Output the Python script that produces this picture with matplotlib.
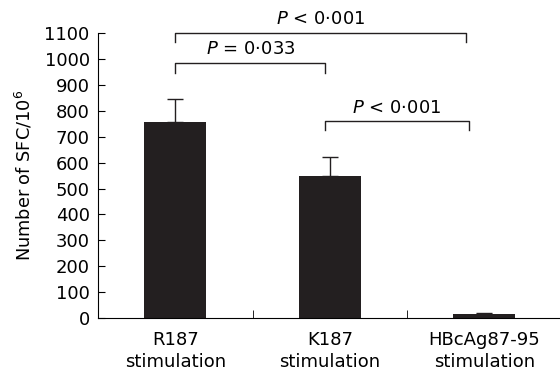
import matplotlib
matplotlib.use("Agg")
import matplotlib.pyplot as plt

# the reference is stretched sideways, DejaVu's wide glyphs match it best
plt.rcParams['font.family'] = ['DejaVu Sans']
plt.rcParams['mathtext.fontset'] = 'custom'
plt.rcParams['mathtext.rm'] = 'DejaVu Sans'
plt.rcParams['mathtext.it'] = 'DejaVu Sans:italic'

categories = ["R187\nstimulation", "K187\nstimulation", "HBcAg87-95\nstimulation"]
means = [757, 548, 15]
errors = [88, 74, 6]
yticks = list(range(0, 1101, 100))

# brackets: (x left, x right, y bar, y leg end, label)
brackets = [
    (0.0, 1.88, 1100, 1065, "$P$ < 0·001"),
    (0.0, 0.97, 985, 945, "$P$ = 0·033"),
    (0.97, 1.90, 760, 726, "$P$ < 0·001"),
]

fig = plt.figure(figsize=(5.6, 3.76), dpi=100)
ax = fig.add_axes([0.175, 0.154, 0.828, 0.758])

x = range(len(categories))
ax.bar(x, means, width=0.4, color='#231f20', zorder=2)
ax.errorbar(x, means, yerr=[[0]*3, errors], fmt='none', ecolor='#231f20',
            elinewidth=1, capsize=6, capthick=1, zorder=1)

ax.set_xlim(-0.5, 2.5)
ax.set_ylim(0, 1100)
ax.set_yticks(yticks)
ax.set_xticks(list(x))
ax.set_xticklabels(categories, fontsize=13, linespacing=1.3)
ax.tick_params(axis='x', length=0, pad=9)
ax.tick_params(axis='y', labelsize=13, direction='in', length=5, pad=6)
ax.set_xticks([0.5, 1.5], minor=True)
ax.tick_params(axis='x', which='minor', direction='in', length=6)
ax.spines['top'].set_visible(False)
ax.spines['right'].set_visible(False)
ax.set_ylabel("Number of SFC/10$^6$", fontsize=12.8, labelpad=7)

for x0, x1, yb, yl, lab in brackets:
    ax.plot([x0, x0, x1, x1], [yl, yb, yb, yl], color='#231f20', lw=1,
            clip_on=False)
    ax.text((x0 + x1) / 2, yb + 18, lab, ha='center', va='bottom',
            fontsize=13, clip_on=False)

fig.savefig("out.png", dpi=100)
